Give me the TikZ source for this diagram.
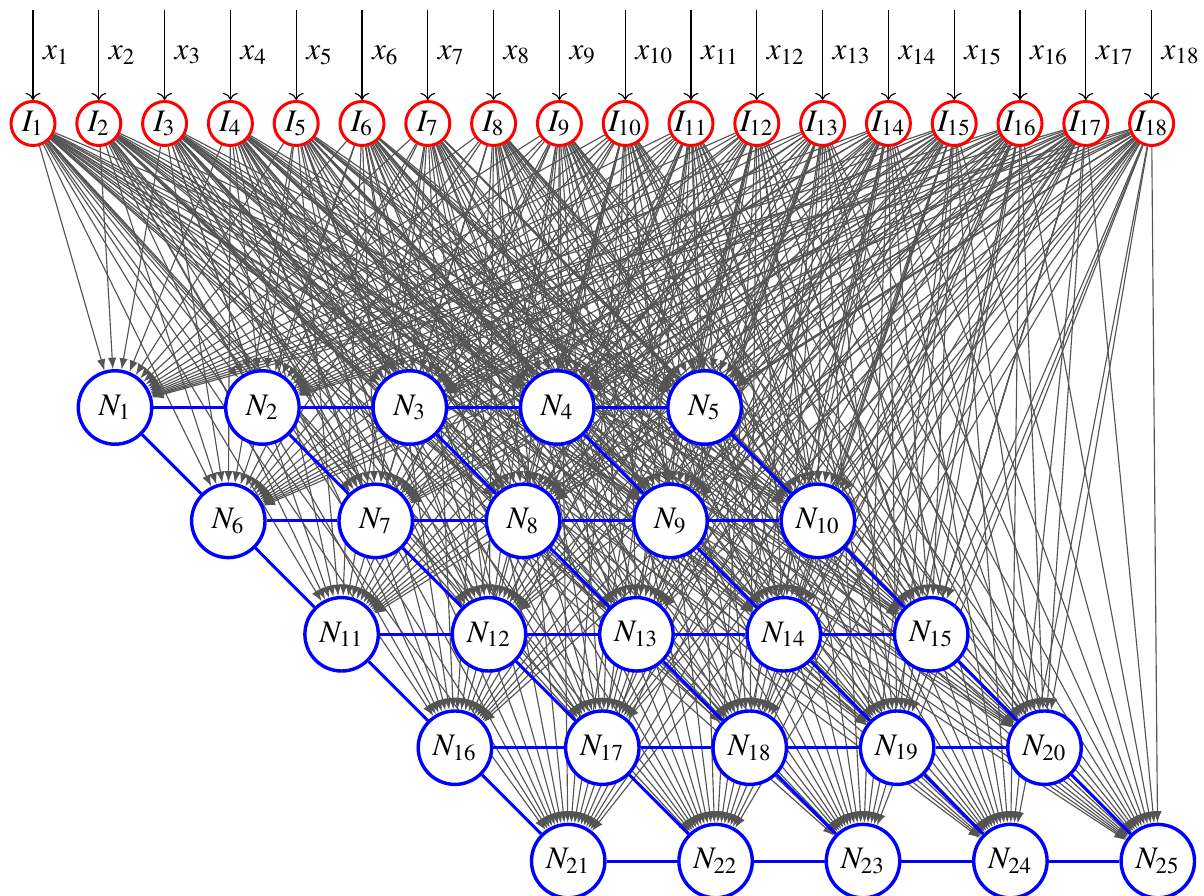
\documentclass[tikz,border=0pt]{standalone}
\usepackage{mathptmx}
\usetikzlibrary{arrows.meta,backgrounds}
\begin{document}
\begin{tikzpicture}[x=0.35pt,y=-0.35pt,font=\fontsize{10.95}{13}\selectfont,
  inode/.style={circle,draw=red,line width=1.05pt,fill=white,minimum size=15.4pt,inner sep=0pt},
  nnode/.style={circle,draw=blue,line width=1.2pt,fill=white,minimum size=25.7pt,inner sep=0pt},
  feed/.style={draw=black!67,line width=0.4pt,-{Latex[length=4pt,width=3pt]}},
  link/.style={draw=blue,line width=1.05pt},
  inarrow/.style={draw=black,line width=0.4pt,->}]
\useasboundingbox (0,0) rectangle (1204,896);
\foreach \k in {1,...,18} {
  \pgfmathsetmacro\xx{33+(\k-1)*65.8}
  \node[inode] (I\k) at (\xx,123.5) {$I_{\k}$};
  \coordinate (T\k) at (\xx,10);
}
\foreach \r in {0,...,4} {
  \foreach \c in {0,...,4} {
    \pgfmathtruncatemacro\idx{5*\r+\c+1}
    \pgfmathsetmacro\xx{115+147.4*\c+113.3*\r}
    \pgfmathsetmacro\yy{407.5+113.4*\r}
    \node[nnode] (N\idx) at (\xx,\yy) {$N_{\idx}$};
  }
}
\foreach \k in {1,...,18} {
  \draw[inarrow] (T\k) -- node[right]{$x_{\k}$} (I\k);
}
\begin{pgfonlayer}{background}
  \foreach \k in {1,...,18} {
    \foreach \n in {1,...,25} {
      \draw[feed] (I\k) -- (N\n);
    }
  }
  \foreach \r in {0,...,4} {
    \foreach \c in {0,...,4} {
      \pgfmathtruncatemacro\a{5*\r+\c+1}
      \pgfmathtruncatemacro\b{\a+1}
      \pgfmathtruncatemacro\d{\a+5}
      \ifnum\c<4 \draw[link] (N\a) -- (N\b); \fi
      \ifnum\r<4 \draw[link] (N\a) -- (N\d); \fi
    }
  }
\end{pgfonlayer}
\end{tikzpicture}
\end{document}
